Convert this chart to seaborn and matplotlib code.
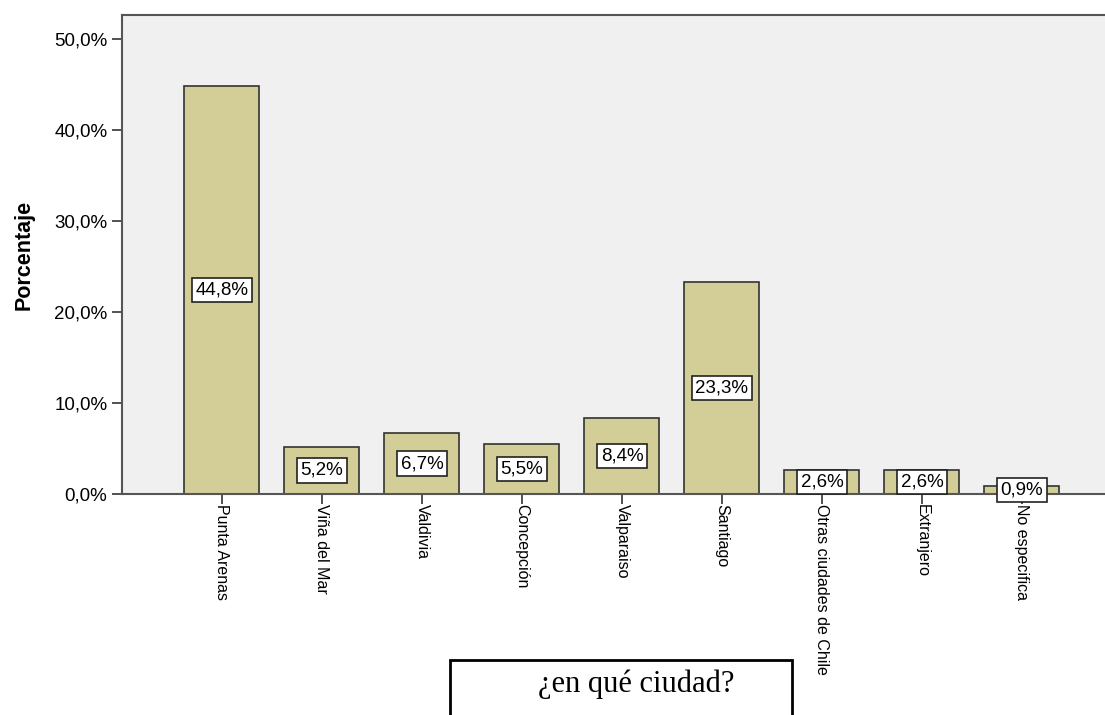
import matplotlib
matplotlib.use("Agg")
import matplotlib.pyplot as plt
import seaborn as sns
import pandas as pd
from matplotlib.patches import Rectangle

# data
ciudades = ["Punta Arenas", "Viña del Mar", "Valdivia", "Concepción", "Valparaiso",
            "Santiago", "Otras ciudades de Chile", "Extranjero", "No especifica"]
porcentajes = [44.8, 5.2, 6.7, 5.5, 8.4, 23.3, 2.6, 2.6, 0.9]
yticks = [0, 10, 20, 30, 40, 50]
ytick_labels = ["0,0%", "10,0%", "20,0%", "30,0%", "40,0%", "50,0%"]
bar_labels = [f"{v:.1f}%".replace(".", ",") for v in porcentajes]

df = pd.DataFrame({"ciudad": ciudades, "porcentaje": porcentajes})

plt.rcParams['font.family'] = ['Liberation Sans', 'DejaVu Sans']

fig = plt.figure(figsize=(11.05, 7.15), dpi=100)
ax = fig.add_axes([0.1104, 0.309, 0.8896, 0.670])
ax.set_facecolor("#F0F0F0")

sns.barplot(data=df, x="ciudad", y="porcentaje", color="#D3CE97", saturation=1,
            edgecolor="#333333", linewidth=1.2, width=0.75, ax=ax)

ax.set_xlim(-1.0, 8.83)
ax.set_ylim(0, 52.6)

# value labels in white boxes
ax.bar_label(ax.containers[0], labels=bar_labels, label_type="center", fontsize=13.5,
             bbox=dict(facecolor="white", edgecolor="#222222",
                       boxstyle="square,pad=0.2", linewidth=1.2))

ax.set_yticks(yticks)
ax.set_yticklabels(ytick_labels, fontsize=13.5)
ax.set_xticks(range(len(ciudades)))
ax.set_xticklabels(ciudades, rotation=-90, ha="center", va="top", fontsize=11.5)
ax.tick_params(axis="both", direction="out", length=7, width=1.2, color="#333333")
ax.tick_params(axis="x", pad=0)

ax.set_xlabel("")
ax.set_ylabel("Porcentaje", fontsize=15.5, fontweight="bold", labelpad=14)

for s in ["left", "top", "bottom"]:
    ax.spines[s].set_color("#555555")
    ax.spines[s].set_linewidth(1.5)
ax.spines["right"].set_visible(False)

# caption box at the bottom
fig.patches.append(Rectangle((450 / 1105, -0.1), 342 / 1105, 55 / 715 + 0.1,
                             transform=fig.transFigure, fill=False,
                             edgecolor="black", linewidth=2))
fig.text(636 / 1105, 1 - 684 / 715, "¿en qué ciudad?", family="Liberation Serif",
         fontsize=22, ha="center", va="center")

fig.savefig("out.png", dpi=100)
